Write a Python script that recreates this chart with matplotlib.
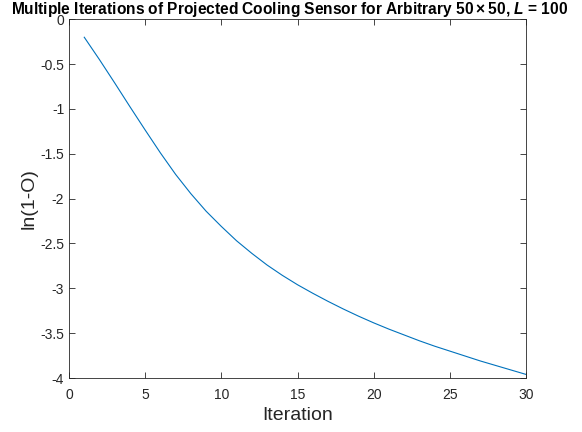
import matplotlib
matplotlib.use('Agg')
import matplotlib.pyplot as plt

# 반복 횟수별 ln(1-O) 값
iterations = list(range(1, 31))
log_values = [-0.20, -0.45, -0.71, -0.975, -1.235, -1.49, -1.73, -1.945, -2.14, -2.31,
              -2.47, -2.61, -2.74, -2.855, -2.96, -3.055, -3.145, -3.23, -3.31, -3.385,
              -3.455, -3.52, -3.585, -3.645, -3.70, -3.755, -3.81, -3.86, -3.91, -3.96]

x_ticks = [0, 5, 10, 15, 20, 25, 30]
y_ticks = [-4, -3.5, -3, -2.5, -2, -1.5, -1, -0.5, 0]
y_ticklabels = ['-4', '-3.5', '-3', '-2.5', '-2', '-1.5', '-1', '-0.5', '0']

plt.rcParams['font.family'] = ['Liberation Sans', 'DejaVu Sans']
plt.rcParams['axes.unicode_minus'] = False
plt.rcParams['mathtext.fontset'] = 'custom'
plt.rcParams['mathtext.rm'] = 'Liberation Sans:bold'
plt.rcParams['mathtext.it'] = 'Liberation Sans:italic:bold'

fig = plt.figure(figsize=(5.82, 4.32), dpi=100)
ax = fig.add_axes([0.1186, 0.125, 0.7852, 0.8303])

ax.plot(iterations, log_values, color='#0072BD', linewidth=0.8)

ax.set_xlim(0, 30)
ax.set_ylim(-4, 0)
ax.set_xticks(x_ticks)
ax.set_yticks(y_ticks)
ax.set_yticklabels(y_ticklabels)

gray = '#262626'
for s in ax.spines.values():
    s.set_color(gray)
    s.set_linewidth(0.6)
ax.tick_params(direction='in', top=True, right=True, length=4, width=0.6,
               colors=gray, labelsize=10, labelcolor=gray)
ax.tick_params(axis='x', pad=7)

ax.set_xlabel('Iteration', fontsize=14, color=gray, labelpad=4)
ax.set_ylabel('ln(1-O)', fontsize=14, color=gray, labelpad=2)

# 제목은 그림 기준으로 약간 왼쪽에 둔다
fig.text(0.498, 0.979, 'Multiple Iterations of Projected Cooling Sensor for Arbitrary 50\u2009\u00d7\u200950, $L$ = 100',
         ha='center', va='center', fontsize=11.2, fontweight='bold')

fig.savefig('out.png', dpi=100)
